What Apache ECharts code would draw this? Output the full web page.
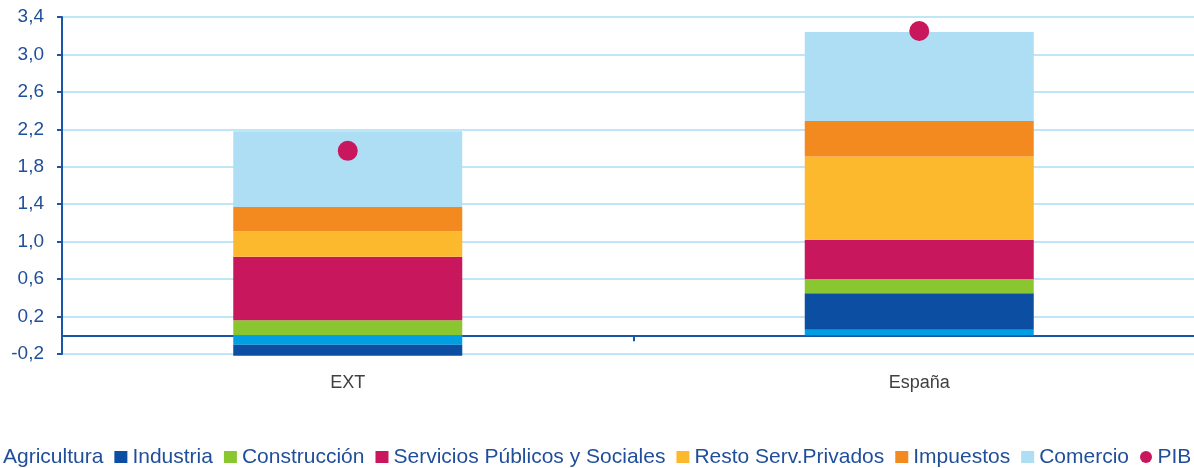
<!DOCTYPE html>
<html>
<head>
<meta charset="utf-8">
<script src="https://cdn.jsdelivr.net/npm/echarts@6/dist/echarts.min.js"></script>
<style>
  html, body { margin: 0; padding: 0; background: #ffffff; }
  #chart { width: 1194px; height: 468px; }
</style>
</head>
<body>
<div id="chart"></div>
<script>
let categories = ['EXT', 'España'];
let agricultura = [-0.10, 0.06];
let industria = [-0.12, 0.39];
let construccion = [0.16, 0.15];
let servicios = [0.68, 0.42];
let resto = [0.27, 0.89];
let impuestos = [0.26, 0.38];
let comercio = [0.81, 0.95];
let pib = [1.97, 3.25];

let blue = '#1a56a8';
let textBlue = '#1f4e9b';

let barSeries = [
  { name: 'Agricultura', data: agricultura, color: '#009fe3' },
  { name: 'Industria', data: industria, color: '#0b4ea2' },
  { name: 'Construcción', data: construccion, color: '#8ac630' },
  { name: 'Servicios Públicos y Sociales', data: servicios, color: '#c8175d' },
  { name: 'Resto Serv.Privados', data: resto, color: '#fdb92e' },
  { name: 'Impuestos', data: impuestos, color: '#f28a1f' },
  { name: 'Comercio', data: comercio, color: '#aedef4' }
];

let series = barSeries.map(function (s) {
  return {
    name: s.name,
    type: 'bar',
    stack: 'total',
    barWidth: 229,
    clip: false,
    xAxisIndex: 0,
    itemStyle: { color: s.color },
    data: s.data
  };
});
series.push({
  name: 'PIB',
  type: 'scatter',
  xAxisIndex: 0,
  symbol: 'circle',
  symbolSize: 20,
  itemStyle: { color: '#c8175d', opacity: 1 },
  z: 5,
  data: pib
});

let chart = echarts.init(document.getElementById('chart'));
chart.setOption({
  backgroundColor: '#ffffff',
  animation: false,
  textStyle: { fontFamily: 'Liberation Sans, Arial, sans-serif' },
  // la rejilla sigue un poco más allá del borde derecho
  grid: { left: 62, width: 1143, top: 17, height: 337, outerBoundsMode: 'none', containLabel: false },
  legend: {
    left: -15,
    top: 446,
    width: 1500,
    padding: 0,
    itemGap: 11,
    itemWidth: 13,
    itemHeight: 12,
    icon: 'rect',
    textStyle: { color: textBlue, fontSize: 21, lineHeight: 22 },
    data: barSeries.map(function (s) { return s.name; }).concat([{ name: 'PIB', icon: 'circle' }])
  },
  xAxis: [{
    type: 'category',
    data: categories,
    position: 'bottom',
    axisLine: { onZero: true, lineStyle: { color: blue, width: 2 } },
    axisTick: { show: true, length: 6, lineStyle: { color: blue, width: 2 } },
    axisLabel: { show: false },
    splitLine: { show: false }
  }, {
    type: 'category',
    data: categories,
    position: 'bottom',
    axisLine: { show: false, onZero: false },
    axisTick: { show: false },
    axisLabel: { color: '#404040', fontSize: 18, margin: 20 },
    splitLine: { show: false }
  }],
  yAxis: {
    type: 'value',
    min: -0.2,
    max: 3.4,
    interval: 0.4,
    axisLine: { show: true, lineStyle: { color: blue, width: 2 } },
    axisTick: { show: true, length: 5, lineStyle: { color: blue, width: 2 } },
    axisLabel: {
      color: textBlue,
      fontSize: 19,
      margin: 18,
      formatter: function (v) { return v.toFixed(1).replace('.', ','); }
    },
    splitLine: { lineStyle: { color: '#bfe6f7', width: 2 } }
  },
  series: series
});
</script>
</body>
</html>
